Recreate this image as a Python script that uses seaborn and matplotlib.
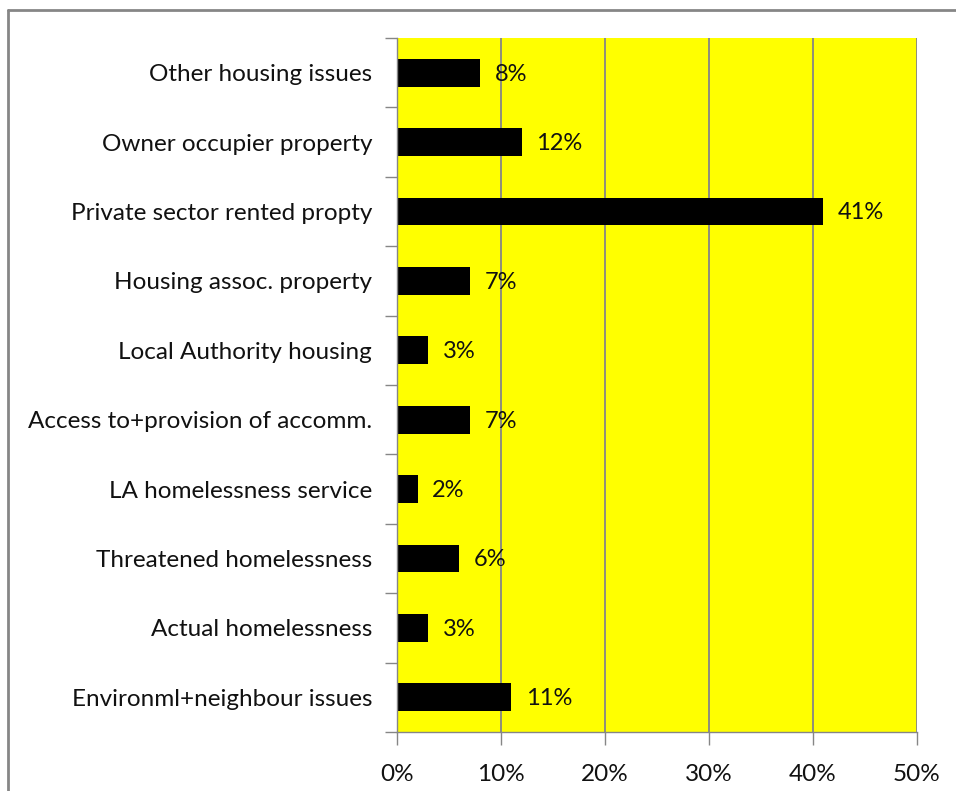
import matplotlib
matplotlib.use("Agg")
import matplotlib.pyplot as plt
import seaborn as sns
import pandas as pd
import numpy as np
from matplotlib.lines import Line2D
from matplotlib.ticker import FixedLocator

categories = [
    "Other housing issues",
    "Owner occupier property",
    "Private sector rented propty",
    "Housing assoc. property",
    "Local Authority housing",
    "Access to+provision of accomm.",
    "LA homelessness service",
    "Threatened homelessness",
    "Actual homelessness",
    "Environml+neighbour issues",
]
values = [8, 12, 41, 7, 3, 7, 2, 6, 3, 11]
x_ticks = [0, 10, 20, 30, 40, 50]
x_tick_labels = ["0%", "10%", "20%", "30%", "40%", "50%"]

df = pd.DataFrame({"category": categories, "value": values})

sns.set_style("white")
plt.rcParams["font.family"] = ["Lato", "DejaVu Sans"]

fig = plt.figure(figsize=(9.56, 7.91), dpi=100)
ax = fig.add_axes([397/956, 1-732/791, (917-397)/956, (732-38)/791])
ax.set_facecolor("#FFFF00")

sns.barplot(data=df, x="value", y="category", orient="h", color="black",
            width=0.4, ax=ax, saturation=1, edgecolor="black", linewidth=0)

ax.set_xlim(0, 50)
ax.set_ylim(len(categories)-0.5, -0.5)
ax.set_xticks(x_ticks)
ax.set_xticklabels(x_tick_labels, fontsize=17.5, color="#111111")
ax.set_xlabel("")
ax.set_ylabel("")
ax.tick_params(axis="y", which="major", length=0, labelsize=17.5, pad=18, labelcolor="#111111")
ax.yaxis.set_minor_locator(FixedLocator(np.arange(-0.5, len(categories), 1.0)))
ax.tick_params(axis="y", which="minor", length=9, width=1, color="#868686", left=True)
ax.tick_params(axis="x", which="major", length=9, width=1, color="#868686", bottom=True, pad=14)

for xv in x_ticks[1:]:
    ax.axvline(xv, color="#868686", linewidth=1.3, zorder=0.5)

for side in ["top", "right"]:
    ax.spines[side].set_visible(False)
for side in ["left", "bottom"]:
    ax.spines[side].set_visible(True)
    ax.spines[side].set_color("#868686")
    ax.spines[side].set_linewidth(1)

for i, v in enumerate(values):
    ax.text(v + 1.4, i + 0.02, f"{v}%", va="center", ha="left", fontsize=17, color="#111111")

# outer chart border (top and left visible)
fig.add_artist(Line2D([8/956, 1], [1-10/791, 1-10/791], transform=fig.transFigure,
                      color="#868686", linewidth=2))
fig.add_artist(Line2D([8/956, 8/956], [0, 1-10/791], transform=fig.transFigure,
                      color="#868686", linewidth=2))

fig.savefig("out.png", dpi=100)
